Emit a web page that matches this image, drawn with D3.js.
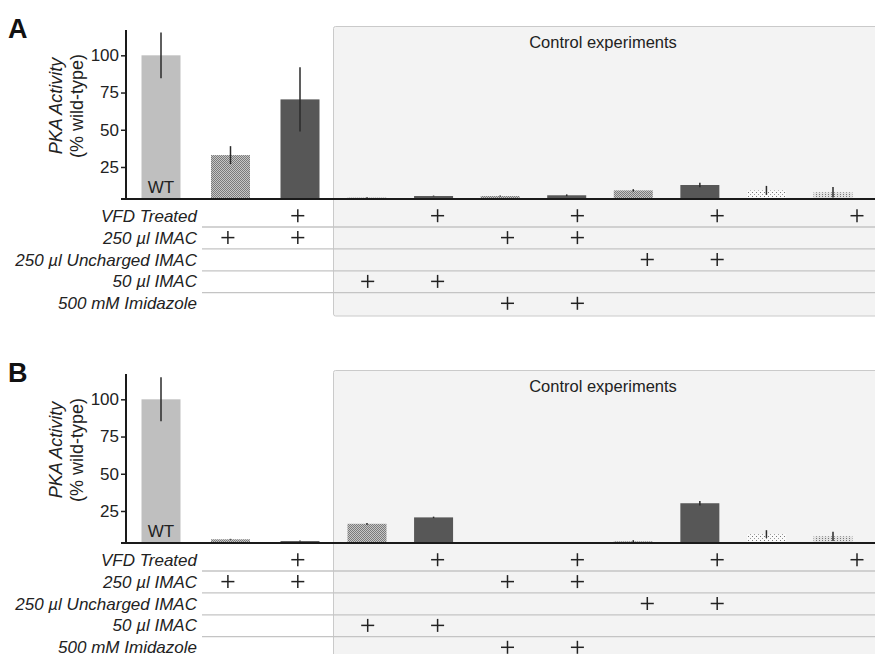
<!DOCTYPE html>
<html lang="en">
<head>
    <meta charset="UTF-8">
    <title>PKA Activity</title>
    <script src="https://cdn.jsdelivr.net/npm/d3@7/dist/d3.min.js"></script>
</head>
<body>
    <div id="chart"></div>

    <script>
        // Data
        const columns = ['WT', 'IMAC', 'VFD+IMAC', '50 IMAC', 'VFD+50 IMAC', 'IMAC+Imid', 'VFD+IMAC+Imid',
                         'Uncharged', 'VFD+Uncharged', 'Buffer', 'VFD only'];
        const activityA = [100, 33.0, 70.4, 4.4, 5.5, 5.5, 6.0, 9.3, 12.9, 9.3, 8.0];
        const errorA    = [15.4, 6.0, 21.5, 0.3, 0.3, 0.3, 0.6, 0.8, 1.5, 3.0, 3.5];
        const activityB = [100, 6.0, 4.8, 16.4, 20.7, 0, 0, 4.6, 30.2, 9.5, 8.0];
        const errorB    = [14.8, 0.3, 0.3, 0.6, 0.5, 0, 0, 0.8, 1.5, 2.6, 3.1];
        const fills     = ['light', 'check', 'dark', 'check', 'dark', 'check', 'dark', 'check', 'dark', 'sparse', 'stripe'];

        const rowLabels = ['VFD Treated', '250 µl IMAC', '250 µl Uncharged IMAC', '50 µl IMAC', '500 mM Imidazole'];
        const vfd       = [0, 0, 1, 0, 1, 0, 1, 0, 1, 0, 1];
        const imac250   = [0, 1, 1, 0, 0, 1, 1, 0, 0, 0, 0];
        const uncharged = [0, 0, 0, 0, 0, 0, 0, 1, 1, 0, 0];
        const imac50    = [0, 0, 0, 1, 1, 0, 0, 0, 0, 0, 0];
        const imidazole = [0, 0, 0, 0, 0, 1, 1, 0, 0, 0, 0];
        const yTicks    = [25, 50, 75, 100];

        const width = 875, height = 654;
        const font = '"Liberation Sans", Arial, sans-serif';

        const svg = d3.select('#chart').append('svg')
            .attr('width', width)
            .attr('height', height)
            .style('font-family', font);

        // patterns
        const defs = svg.append('defs');
        const check = defs.append('pattern').attr('id', 'check')
            .attr('width', 2).attr('height', 2).attr('patternUnits', 'userSpaceOnUse');
        check.append('rect').attr('width', 2).attr('height', 2).attr('fill', '#c6c6c6');
        check.append('rect').attr('width', 1).attr('height', 1).attr('fill', '#7a7a7a');
        check.append('rect').attr('x', 1).attr('y', 1).attr('width', 1).attr('height', 1).attr('fill', '#7a7a7a');

        const sparse = defs.append('pattern').attr('id', 'sparse')
            .attr('width', 4).attr('height', 4).attr('patternUnits', 'userSpaceOnUse');
        sparse.append('rect').attr('width', 4).attr('height', 4).attr('fill', '#fafafa');
        sparse.append('rect').attr('width', 1).attr('height', 1).attr('fill', '#777');
        sparse.append('rect').attr('x', 2).attr('y', 2).attr('width', 1).attr('height', 1).attr('fill', '#999');

        const stripe = defs.append('pattern').attr('id', 'stripe')
            .attr('width', 3).attr('height', 2).attr('patternUnits', 'userSpaceOnUse');
        stripe.append('rect').attr('width', 3).attr('height', 2).attr('fill', '#e2e2e2');
        stripe.append('rect').attr('width', 1).attr('height', 1).attr('fill', '#777');

        const fillColor = {
            light: '#bfbfbf',
            dark: '#575757',
            check: 'url(#check)',
            sparse: 'url(#sparse)',
            stripe: 'url(#stripe)'
        };

        // scales
        const y = d3.scaleLinear().domain([3.5, 117]).range([199, 30]).clamp(true);
        const xMain = d3.scalePoint().domain(columns.slice(0, 3)).range([161, 300]);
        const xCtrl = d3.scalePoint().domain(columns.slice(3)).range([367, 833]);
        const xBar = c => columns.indexOf(c) < 3 ? xMain(c) : xCtrl(c);
        const barW = 39;
        const xTable = d3.scalePoint().domain(columns).range([158, 857]);
        const yRow = d3.scalePoint().domain(rowLabels).range([215.7, 303.3]);
        const marks = [vfd, imac250, uncharged, imac50, imidazole];

        function drawPanel(label, offset, activity, error) {
            const g = svg.append('g').attr('transform', `translate(0,${offset})`);

            // grey control box
            g.append('rect')
                .attr('x', 333.5).attr('y', 26.5)
                .attr('width', 545).attr('height', 289.5)
                .attr('rx', 2)
                .attr('fill', '#f3f3f3')
                .attr('stroke', '#cacaca');

            g.append('text')
                .attr('x', 603).attr('y', 48)
                .attr('text-anchor', 'middle')
                .attr('font-size', 16.5)
                .attr('fill', '#222')
                .text('Control experiments');

            // panel letter
            g.append('text')
                .attr('x', 8).attr('y', 38)
                .attr('font-size', 27)
                .attr('font-weight', 'bold')
                .attr('fill', '#111')
                .text(label);

            const data = columns.map((c, i) => ({ c, v: activity[i], e: error[i], f: fills[i] }));

            // bars
            g.selectAll('.bar')
                .data(data)
                .enter()
                .append('rect')
                .attr('class', 'bar')
                .attr('x', d => xBar(d.c) - barW / 2)
                .attr('y', d => y(d.v))
                .attr('width', barW)
                .attr('height', d => y.range()[0] - y(d.v))
                .attr('fill', d => fillColor[d.f]);

            // error bars
            g.selectAll('.err')
                .data(data.filter(d => d.e > 0))
                .enter()
                .append('line')
                .attr('class', 'err')
                .attr('x1', d => xBar(d.c)).attr('x2', d => xBar(d.c))
                .attr('y1', d => y(d.v + d.e))
                .attr('y2', d => y(d.v - d.e))
                .attr('stroke', '#2a2a2a')
                .attr('stroke-width', 1.5);

            g.append('text')
                .attr('x', xBar(columns[0])).attr('y', 192.5)
                .attr('text-anchor', 'middle')
                .attr('font-size', 17)
                .attr('fill', '#222')
                .text('WT');

            // y axis
            const yAxis = g.append('g')
                .attr('transform', 'translate(126,0)')
                .call(d3.axisLeft(y).tickValues(yTicks).tickSize(5).tickPadding(2));
            yAxis.select('.domain').remove();
            yAxis.selectAll('text').attr('font-size', 17).attr('font-family', font).attr('fill', '#222');
            yAxis.selectAll('line').attr('stroke', '#222').attr('stroke-width', 1.5);

            g.append('line')
                .attr('x1', 126).attr('x2', 126)
                .attr('y1', y.range()[1]).attr('y2', y.range()[0] + 1)
                .attr('stroke', '#1a1a1a').attr('stroke-width', 2);
            g.append('line')
                .attr('x1', 121).attr('x2', width)
                .attr('y1', y.range()[0]).attr('y2', y.range()[0])
                .attr('stroke', '#1a1a1a').attr('stroke-width', 2);

            // y title
            const title = g.append('text')
                .attr('transform', 'translate(0,106) rotate(-90)')
                .attr('text-anchor', 'middle')
                .attr('font-size', 18)
                .attr('fill', '#222');
            title.append('tspan').attr('x', 0).attr('y', 62)
                .attr('font-style', 'italic').text('PKA Activity');
            title.append('tspan').attr('x', 0).attr('y', 83).text('(% wild-type)');

            // condition table
            g.selectAll('.sep')
                .data(rowLabels.slice(0, -1))
                .enter()
                .append('line')
                .attr('class', 'sep')
                .attr('x1', 202).attr('x2', width)
                .attr('y1', d => yRow(d) + 11.3).attr('y2', d => yRow(d) + 11.3)
                .attr('stroke', '#c4c4c4').attr('stroke-width', 1.3);

            g.selectAll('.rowlabel')
                .data(rowLabels)
                .enter()
                .append('text')
                .attr('class', 'rowlabel')
                .attr('x', 197)
                .attr('y', d => yRow(d) + 6)
                .attr('text-anchor', 'end')
                .attr('font-size', 17)
                .attr('font-style', 'italic')
                .attr('fill', '#222')
                .text(d => d);

            const plusData = [];
            rowLabels.forEach((r, ri) => {
                marks[ri].forEach((m, ci) => { if (m) plusData.push({ r, c: columns[ci] }); });
            });
            const plus = g.selectAll('.plus')
                .data(plusData)
                .enter()
                .append('g')
                .attr('class', 'plus')
                .attr('transform', d => `translate(${xTable(d.c)},${yRow(d.r)})`);
            plus.append('line').attr('x1', -6.5).attr('x2', 6.5)
                .attr('stroke', '#222').attr('stroke-width', 1.5);
            plus.append('line').attr('y1', -6.5).attr('y2', 6.5)
                .attr('stroke', '#222').attr('stroke-width', 1.5);
        }

        drawPanel('A', 0, activityA, errorA);
        drawPanel('B', 344, activityB, errorB);
    </script>
</body>
<style>
    body {
        margin: 0;
        background: #fff;
    }
</style>
</html>
